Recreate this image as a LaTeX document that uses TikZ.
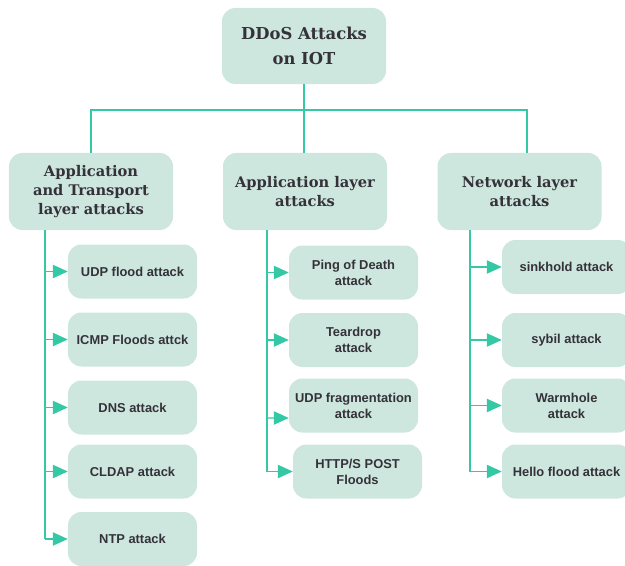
\documentclass[tikz,border=0pt]{standalone}
\usepackage{fontspec}
\setmainfont{Liberation Sans}
\newfontfamily\slabfont{DejaVu Serif}
\usetikzlibrary{arrows.meta}

\definecolor{boxmint}{RGB}{205,230,222}
\definecolor{linegreen}{RGB}{52,200,164}
\definecolor{boxtext}{RGB}{52,50,56}

\begin{document}
\begin{tikzpicture}[x=0.03cm, y=-0.03cm]

    % Styles for the boxes and the connecting lines
    \tikzset{
        rootbox/.style={fill=boxmint, rounded corners=0.4cm, minimum width=4.92cm, minimum height=2.28cm,
            align=center, text=boxtext, font=\slabfont\bfseries\fontsize{14}{21}\selectfont},
        layerbox/.style={fill=boxmint, rounded corners=0.4cm, minimum width=4.92cm, minimum height=2.31cm,
            align=center, text=boxtext, font=\slabfont\bfseries\fontsize{12.5}{16}\selectfont},
        leafbox/.style={fill=boxmint, rounded corners=0.4cm, minimum width=3.87cm, minimum height=1.62cm,
            align=center, text=boxtext, font=\bfseries\fontsize{11}{13.5}\selectfont},
        treeline/.style={line width=1.1pt, linegreen},
        leafarrow/.style={line width=1.1pt, linegreen, -{Triangle[length=4.5mm, width=4mm]}}
    }

    \useasboundingbox (0,0) rectangle (625,565);

    % --- ROOT AND LAYER BOXES ---
    \node[rootbox] (root) at (304,46) {DDoS Attacks\\on IOT};
    \node[layerbox] (transport) at (91,191.5) {Application\\and Transport\\layer attacks};
    \node[layerbox] (application) at (305,191.5) {Application layer\\attacks};
    \node[layerbox] (network) at (519.5,191.5) {Network layer\\attacks};

    % --- LEAVES: APPLICATION AND TRANSPORT ---
    \node[leafbox] (udp) at (132.5,271.5) {UDP flood attack};
    \node[leafbox] (icmp) at (132.5,339.5) {ICMP Floods attck};
    \node[leafbox] (dns) at (132.5,407.5) {DNS attack};
    \node[leafbox] (cldap) at (132.5,471.5) {CLDAP attack};
    \node[leafbox] (ntp) at (132.5,539) {NTP attack};

    % --- LEAVES: APPLICATION LAYER ---
    \node[leafbox] (ping) at (353.5,272.5) {Ping of Death\\attack};
    \node[leafbox] (teardrop) at (353.5,340) {Teardrop\\attack};
    \node[leafbox] (udpfrag) at (353.5,405.5) {UDP fragmentation\\attack};
    \node[leafbox] (httppost) at (357.5,471.5) {HTTP/S POST\\Floods};

    % --- LEAVES: NETWORK LAYER ---
    \node[leafbox] (sinkhold) at (566.5,267) {sinkhold attack};
    \node[leafbox] (sybil) at (566.5,340) {sybil attack};
    \node[leafbox] (warmhole) at (566.5,405.5) {Warmhole\\attack};
    \node[leafbox] (hello) at (566.5,471.5) {Hello flood attack};

    % --- TREE FROM THE ROOT TO THE LAYERS ---
    \coordinate (bus) at (304,110);
    \coordinate (busR) at (527,110);
    \draw[treeline] (root.south) -- (bus);
    \draw[treeline] (bus) -| (transport.north);
    \draw[treeline] (bus) -- (bus |- application.north);
    \draw[treeline] (bus) -- (busR) -- (busR |- network.north);

    % --- TRUNKS UNDER THE LAYERS ---
    \coordinate (trunkA) at (45,0);
    \coordinate (trunkB) at (267,0);
    \coordinate (trunkC) at (470,0);
    \draw[treeline] (trunkA |- transport.south) -- (trunkA |- ntp.west);
    \draw[treeline] (trunkB |- application.south) -- (trunkB |- httppost.west);
    \draw[treeline] (trunkC |- network.south) -- (trunkC |- hello.west);

    % --- ARROWS TO THE LEAVES ---
    \foreach \leaf in {udp, icmp, dns, cldap, ntp} {
        \draw[leafarrow] (trunkA |- \leaf.west) -- (\leaf.west);
    }
    \foreach \leaf in {ping, teardrop, httppost} {
        \draw[leafarrow] (trunkB |- \leaf.west) -- (\leaf.west);
    }
    \draw[leafarrow] (trunkB |- udpfrag.west) ++(0,12.5) -- ([yshift=-0.375cm]udpfrag.west);
    \foreach \leaf in {sinkhold, sybil, warmhole, hello} {
        \draw[leafarrow] (trunkC |- \leaf.west) -- (\leaf.west);
    }

\end{tikzpicture}
\end{document}
